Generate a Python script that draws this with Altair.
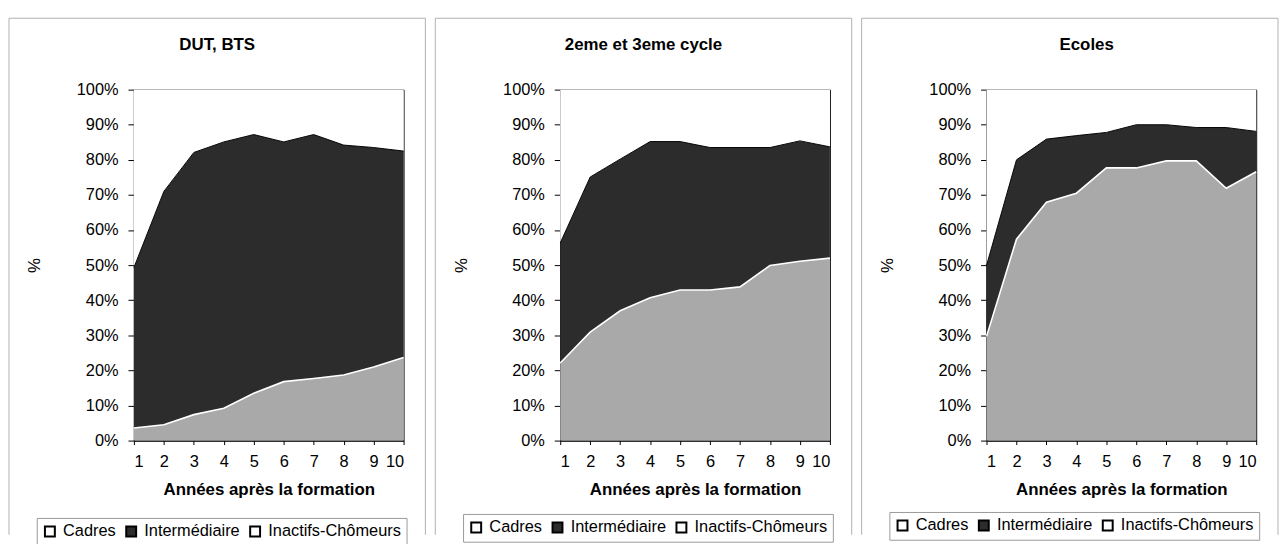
import altair as alt
import pandas as pd

years = list(range(1, 11))
panels = ["DUT, BTS", "2eme et 3eme cycle", "Ecoles"]
categories = ["Cadres", "Intermédiaire", "Inactifs-Chômeurs"]

# DUT, BTS
dut_cadres = [3.6, 4.5, 7.4, 9.2, 13.5, 16.8, 17.7, 18.7, 21.0, 23.7]
dut_inter = [45.7, 66.5, 74.7, 75.9, 73.7, 68.3, 69.5, 65.5, 62.5, 58.8]
dut_inact = [50.7, 29.0, 17.9, 14.9, 12.8, 14.9, 12.8, 15.8, 16.5, 17.5]

# 2eme et 3eme cycle
cyc_cadres = [22.1, 30.9, 37.0, 40.7, 42.9, 42.9, 43.8, 49.9, 51.1, 52.0]
cyc_inter = [34.2, 44.2, 43.2, 44.5, 42.3, 40.6, 39.7, 33.6, 34.3, 31.7]
cyc_inact = [43.7, 24.9, 19.8, 14.8, 14.8, 16.5, 16.5, 16.5, 14.6, 16.3]

# Ecoles
eco_cadres = [29.7, 57.4, 67.9, 70.5, 77.7, 77.7, 79.7, 79.7, 71.9, 76.6]
eco_inter = [20.2, 22.6, 18.0, 16.4, 10.1, 12.3, 10.3, 9.5, 17.3, 11.5]
eco_inact = [50.1, 20.0, 14.1, 13.1, 12.2, 10.0, 10.0, 10.8, 10.8, 11.9]

series = {
    "DUT, BTS": [dut_cadres, dut_inter, dut_inact],
    "2eme et 3eme cycle": [cyc_cadres, cyc_inter, cyc_inact],
    "Ecoles": [eco_cadres, eco_inter, eco_inact],
}

rows = []
for p in panels:
    for k, (cat, vals) in enumerate(zip(categories, series[p])):
        for yr, v in zip(years, vals):
            rows.append({"panel": p, "year": yr, "cat": cat, "k": k, "value": v})
df = pd.DataFrame(rows)

FONT = "Liberation Sans"
W, H = 272, 354
area_colors = ["#a9a9a9", "#2c2c2c", "#ffffff"]
legend_fills = ["#ffffff", "#2c2c2c", "#ffffff"]


def make_panel(name, title_x, legend_y):
    base = alt.Chart(df).transform_filter(
        alt.datum.panel == name
    ).transform_stack(
        stack="value",
        groupby=["year"],
        sort=[alt.SortField("k", "ascending")],
        as_=["y0", "y1"],
    )
    x = alt.X(
        "year:Q",
        scale=alt.Scale(domain=[1, 10], nice=False, zero=False),
        axis=alt.Axis(
            values=years, tickSize=4, labelPadding=9, grid=False,
            title="Années après la formation", titleY=49,
            titleBaseline="middle", format="d",
        ),
    )
    y = alt.Y(
        "y1:Q",
        scale=alt.Scale(domain=[0, 100], nice=False),
        axis=alt.Axis(
            values=list(range(0, 101, 10)), tickSize=6, labelPadding=10,
            grid=False, labelExpr="datum.value + '%'",
            title="%", titleX=-100, titleY=H / 2, titleBaseline="middle",
            titleFontWeight="normal",
        ),
    )
    area = base.mark_area(opacity=1).encode(
        x=x, y=y, y2="y0:Q",
        color=alt.Color("cat:N", scale=alt.Scale(domain=categories, range=area_colors), legend=None),
        detail="cat:N",
    )
    line_c = base.transform_filter(alt.datum.cat == "Cadres").mark_line(
        color="white", strokeWidth=1.6
    ).encode(x=x, y=y)
    line_i = base.transform_filter(alt.datum.cat == "Intermédiaire").mark_line(
        color="black", strokeWidth=1
    ).encode(x=x, y=y)
    leg = alt.Chart(df).transform_filter("false").mark_square(
        stroke="black", strokeWidth=2, filled=True, opacity=1
    ).encode(
        fill=alt.Fill(
            "cat:N",
            scale=alt.Scale(domain=categories, range=legend_fills),
            legend=alt.Legend(
                title=None, orient="none", legendX=-98, legendY=legend_y,
                direction="horizontal", strokeColor="#9a9a9a", padding=5,
                symbolType="square", symbolSize=100, symbolStrokeColor="black",
                symbolStrokeWidth=2, symbolOpacity=1, labelFont=FONT,
                labelFontSize=16.5, labelColor="black", labelOffset=5,
                columnPadding=6,
            ),
        )
    )
    one = alt.Data(values=[{"t": name}])
    title = alt.Chart(one).mark_text(
        font=FONT, fontSize=17, fontWeight="bold", color="black",
        align="center", baseline="middle",
    ).encode(x=alt.value(title_x), y=alt.value(-45), text="t:N")
    fr_left = alt.Chart(one).mark_rule(color="#b0b0b0", strokeWidth=1).encode(
        x=alt.value(-126), y=alt.value(-72), y2=alt.value(449))
    fr_top = alt.Chart(one).mark_rule(color="#b0b0b0", strokeWidth=1).encode(
        x=alt.value(-126), x2=alt.value(294), y=alt.value(-72))
    fr_right = alt.Chart(one).mark_rule(color="#b0b0b0", strokeWidth=1).encode(
        x=alt.value(294), y=alt.value(-72), y2=alt.value(449))
    return alt.layer(fr_left, fr_top, fr_right, title, area, line_c, line_i, leg).properties(
        width=W, height=H,
    )


p1 = make_panel(panels[0], 84, 432)
p2 = make_panel(panels[1], 84, 428)
p3 = make_panel(panels[2], 101, 426)

chart = alt.hconcat(p1, p2, p3, spacing=158, bounds="flush").resolve_scale(
    fill="independent"
).resolve_legend(fill="independent").properties(
    padding={"left": 0, "top": 7, "right": 0, "bottom": 0},
    background="white",
).configure_view(
    stroke="black", strokeWidth=1
).configure_axis(
    labelFont=FONT, titleFont=FONT, labelFontSize=16.5, titleFontSize=17,
    labelColor="black", titleColor="black", domainColor="black",
    tickColor="black", titleFontWeight="bold",
)

chart.save("out.html", embed_options={"renderer": "svg", "actions": False})
